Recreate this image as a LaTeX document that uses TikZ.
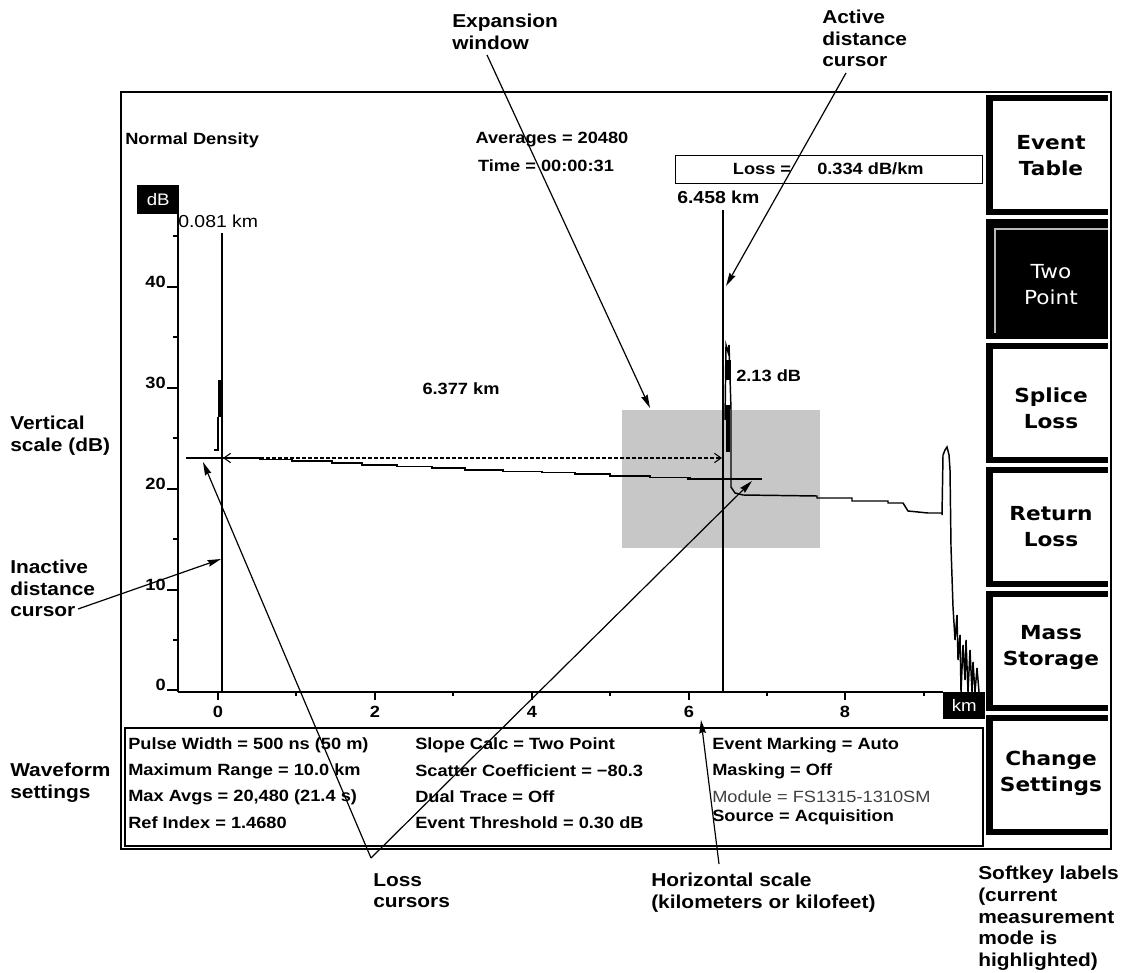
\documentclass[tikz,border=0pt]{standalone}
\usepackage{fontspec}
\setmainfont[FakeStretch=1.12]{Liberation Sans}
\newfontfamily\keyfont[FakeStretch=1.12]{DejaVu Sans}
\usetikzlibrary{arrows.meta}
\begin{document}
\begin{tikzpicture}[x=0.75pt,y=-0.75pt,
  ann/.style={font=\fontsize{14}{16.2}\selectfont\bfseries,align=left,anchor=north west,inner sep=0pt},
  scr/.style={font=\fontsize{12.2}{14}\selectfont\bfseries,inner sep=0pt},
  scrl/.style={font=\fontsize{12.2}{14}\selectfont,inner sep=0pt},
  keylab/.style={font=\keyfont\fontsize{14.5}{19.5}\selectfont\bfseries,align=center,inner sep=0pt},
  pointer/.style={line width=0.9pt,-{Stealth[length=10pt,width=5pt,inset=1pt]}},
  majtick/.style={line width=1.4pt},
  mintick/.style={line width=1pt},
  trace/.style={line width=1.1pt,line join=miter},
]
\useasboundingbox (0,0) rectangle (1130,973);

% ---------- screen frame ----------
\draw[line width=1.2pt] (121,92) rectangle (1111,849);

% ---------- softkeys ----------
\foreach \t in {95,343,467,591,715}{
  \fill (986,\t) rectangle (1108,\t+120);
  \fill[white] (993,\t+6) rectangle (1108,\t+114);
}
\fill (986,219) rectangle (1108,339);
\draw[gray!55,line width=0.8pt] (995,333) -- (995,229) -- (1108,229);
\fill (1102,831) rectangle (1105,834);

\node[keylab] (k1) at (1051,156) {Event\\Table};
\node[keylab,font=\keyfont\fontsize{14.5}{19.5}\selectfont,text=white] (k2) at (1051,285) {Two\\Point};
\node[keylab] (k3) at (1051,408) {Splice\\Loss};
\node[keylab] (k4) at (1051,527) {Return\\Loss};
\node[keylab] (k5) at (1051,648) {Mass\\Storage};
\node[keylab] (k6) at (1051,773) {Change\\Settings};

% ---------- settings box ----------
\draw[line width=0.9pt] (125,728) rectangle (983,846);
\node[scr,anchor=west] (s11) at (128,745) {Pulse Width = 500 ns (50 m)};
\node[scr,anchor=west] (s12) at (128,771) {Maximum Range = 10.0 km};
\node[scr,anchor=west] (s13) at (128,797) {Max Avgs = 20,480 (21.4 s)};
\node[scr,anchor=west] (s14) at (128,823) {Ref Index = 1.4680};
\node[scr,anchor=west] (s21) at (415,745) {Slope Calc = Two Point};
\node[scr,anchor=west] (s22) at (415,771) {Scatter Coefficient = −80.3};
\node[scr,anchor=west] (s23) at (415,797) {Dual Trace = Off};
\node[scr,anchor=west] (s24) at (415,823) {Event Threshold = 0.30 dB};
\node[scr,anchor=west] (s31) at (712,745) {Event Marking = Auto};
\node[scr,anchor=west] (s32) at (712,771) {Masking = Off};
\node[scrl,anchor=west,text=black!75] (s33) at (712,797) {Module = FS1315-1310SM};
\node[scr,anchor=west] (s34) at (712,817) {Source = Acquisition};

% ---------- header texts ----------
\node[scr,anchor=west] (nd) at (125,140) {Normal Density};
\node[scr] (avg) at (552,140) {Averages = 20480};
\node[scr] (tim) at (546,166) {Time = 00:00:31};
\node[draw,line width=0.9pt,anchor=north west,minimum width=230.25pt,minimum height=21pt,inner sep=0pt] (lossbox) at (675,155) {};
\node[scr] (lossl) at (762,169) {Loss =};
\node[scr,anchor=west] (lossv) at (817,169) {0.334 dB/km};

% ---------- expansion window ----------
\fill[black!22] (622,410) rectangle (820,548);

% ---------- axes ----------
\node[fill=black,text=white,anchor=north west,minimum width=31.5pt,minimum height=21.75pt,inner sep=0pt,font=\fontsize{12.5}{14}\selectfont] (dB) at (137,185) {dB};
\node[fill=black,text=white,anchor=north west,minimum width=31.5pt,minimum height=20.25pt,inner sep=0pt,font=\fontsize{12.5}{14}\selectfont] (km) at (943,692) {km};
\draw[line width=1.5pt] (178,214) -- (178,692);
\draw[line width=1.1pt] (178,692) -- (943,692);
\foreach \y/\l in {287/40,388/30,489/20,590/10,690/0}{
  \draw[line width=0.9pt] (167,\y) -- (178,\y);
  \node[scr,anchor=base east] at (166,\y) {\l};
}
\foreach \y in {236,337,438,539,640}{
  \draw[mintick] (173,\y) -- (178,\y);
}
\foreach \x/\l in {218/0,375/2,532/4,689/6,845/8}{
  \draw[majtick] (\x,692) -- (\x,700);
  \node[scr] at (\x,712) {\l};
}
\foreach \x in {296,453,610,767,924}{
  \draw[mintick] (\x,692) -- (\x,696);
}

% ---------- trace ----------
\fill (218,380) rectangle (223,417);
\draw[trace] (214,450) -- (218,450) -- (218,417);
\draw[trace] (223,458) -- (260,458) -- (260,459.5) -- (292,459.5) -- (292,461) -- (332,461) -- (332,463)
  -- (362,463) -- (362,465) -- (397,465) -- (397,466.5) -- (432,466.5) -- (432,468) -- (465,468)
  -- (465,470) -- (503,470) -- (503,471.5) -- (542,471.5) -- (542,472.5) -- (575,472.5) -- (575,474)
  -- (610,474) -- (610,476) -- (650,476) -- (650,477.5) -- (690,477.5) -- (690,479) -- (724,479);
\fill (725,360) rectangle (731,380);
\fill (726,405) rectangle (730,452);
\draw[trace] (725,420) -- (726,345) -- (728,352) -- (729,345) -- (731,410) -- (731,452)
  -- (731,487) -- (735,493) -- (743,495) -- (817,496) -- (817,498) -- (852,498) -- (852,501)
  -- (888,501) -- (888,503) -- (903,503) -- (908,511) -- (928,513) -- (942,513) -- (942,515)
  -- (943,455) -- (945,450) -- (947,447) -- (949,455) -- (950,470) -- (951,547) -- (953,607)
  -- (955,640) -- (957,615) -- (958,660) -- (960,635) -- (961,692) -- (963,645) -- (965,680)
  -- (966,640) -- (968,692) -- (970,650) -- (972,692) -- (973,662) -- (975,692) -- (977,668) -- (979,692);

% ---------- cursors ----------
\coordinate (ic1) at (222,233);
\coordinate (ic2) at (222,692);
\draw[line width=0.8pt] (ic1) -- (ic2);
\node[scrl,anchor=west,font=\fontsize{13}{14}\selectfont] (ickm) at (178,221) {0.081 km};
\coordinate (ac1) at (723,210);
\coordinate (ac2) at (723,692);
\draw[line width=2.2pt] (ac1) -- (ac2);
\node[scr,anchor=west,font=\fontsize{13}{14}\selectfont\bfseries] (ackm) at (677,197) {6.458 km};
\node[scr,anchor=west] (db213) at (736,376) {2.13 dB};
\node[scr] (d6377) at (461,389) {6.377 km};
% loss cursors
\coordinate (lc1a) at (186,458);
\coordinate (lc1b) at (259,458);
\draw[line width=0.9pt] (lc1a) -- (lc1b);
\draw[line width=1.6pt] (224,458) -- (lc1b);
\coordinate (lc2a) at (687,479);
\coordinate (lc2b) at (762,479);
\draw[line width=0.9pt] (lc2a) -- (lc2b);
% distance between cursors
\coordinate (dl) at (223,458);
\coordinate (dr) at (722,458);
\draw[line width=0.8pt,dash pattern=on 3pt off 1.5pt,{Straight Barb[length=5pt,width=7pt]}-{Straight Barb[length=5pt,width=7pt]}] (dl) -- (dr);

% ---------- annotations ----------
\node[ann] (aexp) at (452,14) {Expansion\\window};
\node[ann] (aact) at (822,10) {Active\\distance\\cursor};
\node[ann] (aver) at (10,416) {Vertical\\scale (dB)};
\node[ann] (ainact) at (10,560) {Inactive\\distance\\cursor};
\node[ann] (awave) at (10,763) {Waveform\\settings};
\node[ann] (aloss) at (373,873) {Loss\\cursors};
\node[ann] (ahor) at (651,873) {Horizontal scale\\(kilometers or kilofeet)};
\node[ann] (asoft) at (978,866) {Softkey labels\\(current\\measurement\\mode is\\highlighted)};

\coordinate (pexpS) at (487,55);
\coordinate (pexpT) at (650,408);
\draw[pointer] (pexpS) -- (pexpT);
\coordinate (pactS) at (846,73);
\coordinate (pactT) at (726,286);
\draw[pointer] (pactS) -- (pactT);
\coordinate (pinS) at (78,609);
\coordinate (pinT) at (221,559);
\draw[pointer] (pinS) -- (pinT);
\coordinate (plossS) at (371,858);
\coordinate (plossT1) at (203,462);
\coordinate (plossT2) at (752,481);
\draw[pointer] (plossS) -- (plossT1);
\draw[pointer] (plossS) -- (plossT2);
\coordinate (phorS) at (719,864);
\coordinate (phorT) at (701,720);
\draw[pointer] (phorS) -- (phorT);
\end{tikzpicture}
\end{document}
